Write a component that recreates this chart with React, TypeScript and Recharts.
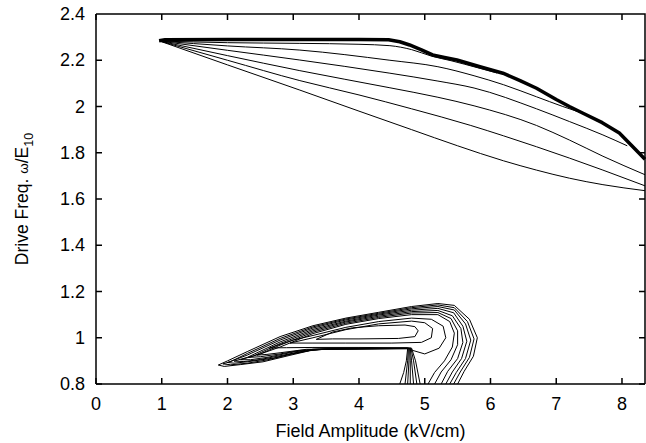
import React from 'react';
import { ComposedChart, Line, XAxis, YAxis } from 'recharts';

type P = [number, number];

const FONT = '"Liberation Sans", Arial, Helvetica, sans-serif';

const xTicks = [0, 1, 2, 3, 4, 5, 6, 7, 8];
const yTicks = [0.8, 1.0, 1.2, 1.4, 1.6, 1.8, 2.0, 2.2, 2.4];
const xDomain: [number, number] = [0, 8.35];
const yDomain: [number, number] = [0.8, 2.4];
const xTitle = 'Field Amplitude (kV/cm)';

// Upper resonance: thick outer boundary and fan of contours
const upperBoundary: P[] = [
  [0.96, 2.284], [1.05, 2.289], [2.0, 2.29], [3.0, 2.29], [4.0, 2.29], [4.45, 2.289],
  [4.62, 2.28], [4.77, 2.266], [4.95, 2.245], [5.12, 2.223], [5.3, 2.212], [5.49, 2.201],
  [5.84, 2.172], [6.19, 2.144], [6.45, 2.112], [6.7, 2.079], [7.0, 2.03], [7.2, 2.0],
  [7.4, 1.972], [7.7, 1.93], [7.96, 1.885], [8.15, 1.83], [8.35, 1.772],
];
const upper1: P[] = [
  [0.97, 2.283], [2.0, 2.276], [3.1, 2.273], [4.0, 2.269], [4.47, 2.263], [4.8, 2.246],
  [5.1, 2.218], [5.4, 2.198], [5.8, 2.168], [6.1, 2.145],
];
const upper2: P[] = [
  [0.97, 2.283], [2.0, 2.262], [3.1, 2.244], [4.47, 2.2], [5.2, 2.172], [5.75, 2.133],
  [6.2, 2.094], [6.7, 2.042], [7.1, 2.0], [7.4, 1.971],
];
const upper3: P[] = [
  [0.97, 2.283], [2.0, 2.243], [3.1, 2.201], [4.47, 2.144], [5.2, 2.11], [5.75, 2.08],
  [6.7, 1.99], [7.2, 1.935], [7.71, 1.877], [8.08, 1.83],
];
const upper4: P[] = [
  [0.97, 2.283], [2.0, 2.22], [3.1, 2.155], [4.47, 2.081], [5.2, 2.04], [5.75, 2.003],
  [6.7, 1.918], [7.2, 1.855], [7.71, 1.785], [8.35, 1.705],
];
const upper5: P[] = [
  [0.97, 2.283], [2.0, 2.2], [3.1, 2.112], [4.0, 2.05], [4.8, 1.99], [5.7, 1.918],
  [6.2, 1.873], [6.7, 1.826], [7.2, 1.777], [7.71, 1.725], [8.35, 1.657],
];
const upper6: P[] = [
  [0.97, 2.283], [2.0, 2.18], [3.1, 2.071], [4.0, 1.98], [4.8, 1.9], [5.5, 1.83],
  [6.2, 1.765], [6.7, 1.725], [7.2, 1.69], [7.71, 1.662], [8.35, 1.636],
];

// Lower resonance: open outer contours (reaching the axis) and closed inner loops
const lowerOuter5: P[] = [
  [5.5, 0.8], [5.6, 0.855], [5.74, 0.92], [5.8, 1.0], [5.68, 1.08], [5.45, 1.14], [5.2, 1.148],
  [4.8, 1.135], [4.3, 1.11], [3.8, 1.085], [3.3, 1.052], [2.8, 1.005], [2.3, 0.94], [2.0, 0.9],
  [1.86, 0.882], [1.95, 0.876], [2.2, 0.884], [2.54, 0.896], [2.95, 0.924], [3.25, 0.944],
  [3.5, 0.951], [4.0, 0.952], [4.74, 0.953], [4.72, 0.9], [4.68, 0.85], [4.62, 0.8],
];
const lowerOuter45: P[] = [
  [5.44, 0.8], [5.54, 0.852], [5.68, 0.915], [5.75, 0.995], [5.65, 1.07], [5.45, 1.13],
  [5.2, 1.142], [4.8, 1.13], [4.3, 1.106], [3.8, 1.081], [3.3, 1.047], [2.8, 0.997],
  [2.3, 0.932], [2.05, 0.897], [1.93, 0.887], [2.05, 0.883], [2.3, 0.89], [2.6, 0.904],
  [2.95, 0.928], [3.3, 0.947], [3.6, 0.952], [4.75, 0.953], [4.74, 0.9], [4.7, 0.8],
];
const lowerOuter4: P[] = [
  [5.38, 0.8], [5.48, 0.85], [5.62, 0.91], [5.7, 0.99], [5.62, 1.06], [5.45, 1.12], [5.2, 1.135],
  [4.8, 1.125], [4.3, 1.102], [3.8, 1.077], [3.3, 1.042], [2.8, 0.99], [2.3, 0.925], [2.0, 0.893],
  [2.1, 0.89], [2.3, 0.896], [2.7, 0.912], [3.0, 0.932], [3.3, 0.948], [3.6, 0.952],
  [4.76, 0.953], [4.76, 0.9], [4.74, 0.8],
];
const lowerOuter34: P[] = [
  [5.32, 0.8], [5.42, 0.852], [5.56, 0.91], [5.64, 0.985], [5.58, 1.05], [5.44, 1.108],
  [5.2, 1.127], [4.8, 1.119], [4.3, 1.098], [3.8, 1.072], [3.3, 1.036], [2.8, 0.982],
  [2.3, 0.915], [2.1, 0.899], [2.25, 0.897], [2.5, 0.906], [2.85, 0.925], [3.15, 0.942],
  [3.45, 0.951], [4.77, 0.954], [4.78, 0.9], [4.78, 0.8],
];
const lowerOuter3: P[] = [
  [5.25, 0.8], [5.35, 0.855], [5.5, 0.91], [5.58, 0.98], [5.55, 1.04], [5.42, 1.095], [5.2, 1.118],
  [4.8, 1.113], [4.3, 1.093], [3.8, 1.068], [3.3, 1.03], [2.8, 0.975], [2.4, 0.922], [2.2, 0.905],
  [2.35, 0.905], [2.6, 0.915], [3.0, 0.938], [3.3, 0.95], [4.78, 0.954], [4.8, 0.9], [4.83, 0.8],
];
const lowerOuter23: P[] = [
  [5.15, 0.8], [5.25, 0.852], [5.4, 0.905], [5.5, 0.97], [5.5, 1.03], [5.4, 1.083], [5.2, 1.109],
  [4.8, 1.107], [4.3, 1.088], [3.8, 1.063], [3.3, 1.024], [2.8, 0.968], [2.5, 0.93], [2.32, 0.915],
  [2.5, 0.918], [2.8, 0.93], [3.1, 0.945], [3.4, 0.952], [4.79, 0.955], [4.83, 0.9], [4.88, 0.8],
];
const lowerOuter2: P[] = [
  [5.05, 0.8], [5.15, 0.85], [5.3, 0.9], [5.42, 0.96], [5.45, 1.02], [5.38, 1.07], [5.2, 1.1],
  [4.8, 1.1], [4.3, 1.083], [3.8, 1.058], [3.3, 1.018], [2.8, 0.96], [2.45, 0.925], [2.6, 0.928],
  [2.8, 0.935], [3.2, 0.95], [4.8, 0.955], [4.86, 0.9], [4.93, 0.8],
];
const lowerLoop3: P[] = [
  [2.64, 0.956], [3.0, 0.99], [3.3, 1.01], [3.8, 1.045], [4.3, 1.07], [4.8, 1.085], [5.1, 1.08],
  [5.28, 1.05], [5.32, 1.0], [5.22, 0.955], [5.0, 0.93], [4.82, 0.945], [4.74, 0.957],
  [4.0, 0.958], [3.3, 0.958], [2.9, 0.957], [2.64, 0.956],
];
const lowerLoop2: P[] = [
  [2.95, 0.977], [3.3, 1.0], [3.8, 1.035], [4.3, 1.06], [4.8, 1.072], [5.0, 1.065], [5.12, 1.04],
  [5.1, 1.0], [4.95, 0.98], [4.5, 0.977], [3.8, 0.977], [3.3, 0.977], [2.95, 0.977],
];
const lowerLoop1: P[] = [
  [3.35, 0.993], [3.6, 1.025], [3.9, 1.043], [4.3, 1.052], [4.7, 1.055], [4.85, 1.048], [4.9, 1.03],
  [4.85, 1.005], [4.6, 0.997], [4.0, 0.995], [3.6, 0.995], [3.35, 0.993],
];

type Series = { id: string; pts: P[]; w: number; curve: 'linear' | 'monotoneX' };
const series: Series[] = [
  { id: 'ub', pts: upperBoundary, w: 3.5, curve: 'linear' },
  { id: 'u1', pts: upper1, w: 1, curve: 'monotoneX' },
  { id: 'u2', pts: upper2, w: 1, curve: 'monotoneX' },
  { id: 'u3', pts: upper3, w: 1, curve: 'monotoneX' },
  { id: 'u4', pts: upper4, w: 1, curve: 'monotoneX' },
  { id: 'u5', pts: upper5, w: 1, curve: 'monotoneX' },
  { id: 'u6', pts: upper6, w: 1, curve: 'monotoneX' },
  { id: 'o5', pts: lowerOuter5, w: 1, curve: 'linear' },
  { id: 'o45', pts: lowerOuter45, w: 1, curve: 'linear' },
  { id: 'o4', pts: lowerOuter4, w: 1, curve: 'linear' },
  { id: 'o34', pts: lowerOuter34, w: 1, curve: 'linear' },
  { id: 'o3', pts: lowerOuter3, w: 1, curve: 'linear' },
  { id: 'o23', pts: lowerOuter23, w: 1, curve: 'linear' },
  { id: 'o2', pts: lowerOuter2, w: 1, curve: 'linear' },
  { id: 'l3', pts: lowerLoop3, w: 1, curve: 'linear' },
  { id: 'l2', pts: lowerLoop2, w: 1, curve: 'linear' },
  { id: 'l1', pts: lowerLoop1, w: 1, curve: 'linear' },
];

// layout
const W = 646;
const H = 443;
const Y_AXIS_W = 96;
const X_AXIS_H = 59;
const MR = 1;
const MT = 14;
const PLOT_L = Y_AXIS_W;
const PLOT_R = W - MR;
const PLOT_T = MT;
const PLOT_B = H - X_AXIS_H;
const TICK_PX = 6;
const TS = 6;

const fmtY = (v: number) => String(+Number(v).toFixed(1));

// frame + inward ticks overlay (axis decoration, positioned from the tick arrays)
const pxX = (v: number) => PLOT_L + ((v - xDomain[0]) / (xDomain[1] - xDomain[0])) * (PLOT_R - PLOT_L);
const pxY = (v: number) => PLOT_B - ((v - yDomain[0]) / (yDomain[1] - yDomain[0])) * (PLOT_B - PLOT_T);
const frameD = (() => {
  let d = `M${PLOT_L},${PLOT_T}H${PLOT_R}V${PLOT_B}`;
  xTicks.forEach((t) => {
    const xx = pxX(t);
    d += `M${xx},${PLOT_B}V${PLOT_B - TICK_PX}M${xx},${PLOT_T}V${PLOT_T + TICK_PX}`;
  });
  yTicks.forEach((t) => {
    const yy = pxY(t);
    d += `M${PLOT_L},${yy}H${PLOT_L + TICK_PX}M${PLOT_R},${yy}H${PLOT_R - TICK_PX}`;
  });
  return d;
})();

const BottomTick = (props: any) => {
  const { x, payload } = props;
  const ay = Number(props.y) - TS;
  return (
    <text x={x} y={ay + 26} textAnchor="middle" fontSize={18} fontFamily={FONT} fill="#000">
      {payload.value}
    </text>
  );
};

const LeftTick = (props: any) => {
  const { y, payload } = props;
  const ax = Number(props.x) + TS;
  return (
    <text x={ax - 11} y={Number(y) + 6} textAnchor="end" fontSize={18} fontFamily={FONT} fill="#000">
      {fmtY(payload.value)}
    </text>
  );
};

const XTitle = (props: any) => {
  const vb = props.viewBox || { x: PLOT_L, y: PLOT_B, width: PLOT_R - PLOT_L, height: X_AXIS_H };
  return (
    <text x={Number(vb.x) + Number(vb.width) / 2} y={Number(vb.y) + 53} textAnchor="middle" fontSize={18} fontFamily={FONT} fill="#000">
      {xTitle}
    </text>
  );
};

const YTitle = (props: any) => {
  const vb = props.viewBox || { x: 0, y: PLOT_T, width: Y_AXIS_W, height: PLOT_B - PLOT_T };
  const cx = 28;
  const cy = Number(vb.y) + Number(vb.height) / 2;
  return (
    <text x={cx} y={cy} transform={`rotate(-90, ${cx}, ${cy})`} textAnchor="middle" fontFamily={FONT} fill="#000">
      <tspan fontSize={17.5}>Drive Freq. </tspan>
      <tspan fontSize={13.5}>ω</tspan>
      <tspan fontSize={17.5}>/E</tspan>
      <tspan fontSize={12.5} dy={5}>10</tspan>
    </text>
  );
};

export default function App() {
  return (
    <div style={{ position: 'absolute', left: 0, top: 0, width: W, height: H, background: '#fff' }}>
      <ComposedChart width={W} height={H} margin={{ top: MT, right: MR, bottom: 0, left: 0 }}>
        <XAxis
          type="number"
          dataKey="x"
          domain={xDomain}
          ticks={xTicks}
          interval={0}
          height={X_AXIS_H}
          tickSize={TS}
          tickMargin={0}
          axisLine={{ stroke: '#000', strokeWidth: 1.5 }}
          tickLine={{ stroke: 'none' }}
          tick={<BottomTick />}
          label={{ content: XTitle }}
        />
        <YAxis
          type="number"
          domain={yDomain}
          ticks={yTicks}
          interval={0}
          width={Y_AXIS_W}
          tickSize={TS}
          tickMargin={0}
          axisLine={{ stroke: '#000', strokeWidth: 1.5 }}
          tickLine={{ stroke: 'none' }}
          tick={<LeftTick />}
          label={{ content: YTitle }}
        />
        {series.map((s) => (
          <Line
            key={s.id}
            data={s.pts.map(([x, y]) => ({ x, y }))}
            dataKey="y"
            type={s.curve}
            stroke="#000"
            strokeWidth={s.w}
            dot={false}
            activeDot={false}
            isAnimationActive={false}
            strokeLinejoin="round"
          />
        ))}
      </ComposedChart>
      <svg
        width={W}
        height={H}
        style={{ position: 'absolute', left: 0, top: 0, pointerEvents: 'none' }}
      >
        <path d={frameD} stroke="#000" strokeWidth={1.5} fill="none" />
      </svg>
    </div>
  );
}
